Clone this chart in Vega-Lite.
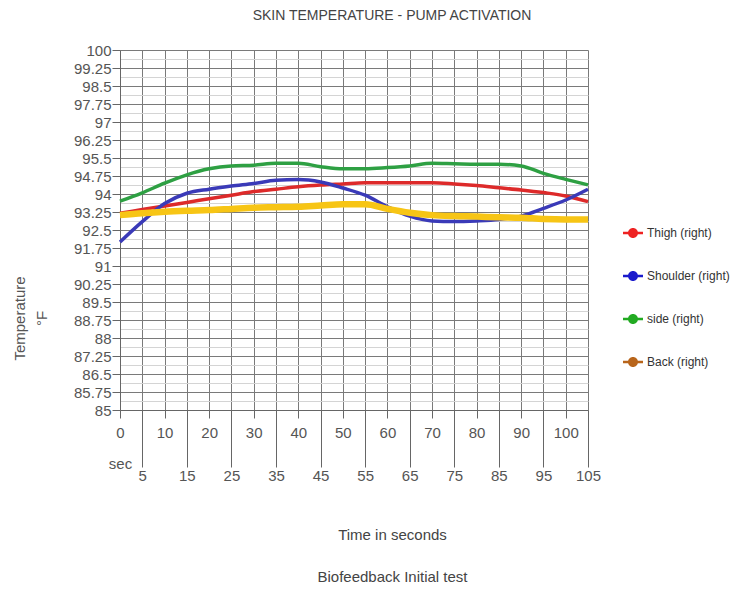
{
  "$schema": "https://vega.github.io/schema/vega-lite/v6.json",
  "width": 468,
  "height": 360,
  "autosize": "none",
  "padding": {"left": 120, "top": 50, "right": 159, "bottom": 180},
  "background": "white",
  "config": {
    "font": "Liberation Sans",
    "view": {"stroke": null}
  },
  "title": {
    "text": "SKIN TEMPERATURE - PUMP ACTIVATION",
    "font": "Liberation Sans",
    "fontSize": 14,
    "fontWeight": "normal",
    "color": "#444444",
    "anchor": "middle",
    "dx": 38,
    "offset": 20
  },
  "datasets": {
    "temps": [
      {"time": 0, "series": "Thigh (right)", "temp": 93.2},
      {"time": 5, "series": "Thigh (right)", "temp": 93.35},
      {"time": 10, "series": "Thigh (right)", "temp": 93.5},
      {"time": 15, "series": "Thigh (right)", "temp": 93.65},
      {"time": 20, "series": "Thigh (right)", "temp": 93.8},
      {"time": 25, "series": "Thigh (right)", "temp": 93.95},
      {"time": 30, "series": "Thigh (right)", "temp": 94.1},
      {"time": 35, "series": "Thigh (right)", "temp": 94.2},
      {"time": 40, "series": "Thigh (right)", "temp": 94.3},
      {"time": 45, "series": "Thigh (right)", "temp": 94.37},
      {"time": 50, "series": "Thigh (right)", "temp": 94.42},
      {"time": 55, "series": "Thigh (right)", "temp": 94.47},
      {"time": 60, "series": "Thigh (right)", "temp": 94.47},
      {"time": 65, "series": "Thigh (right)", "temp": 94.47},
      {"time": 70, "series": "Thigh (right)", "temp": 94.47},
      {"time": 75, "series": "Thigh (right)", "temp": 94.42},
      {"time": 80, "series": "Thigh (right)", "temp": 94.35},
      {"time": 85, "series": "Thigh (right)", "temp": 94.26},
      {"time": 90, "series": "Thigh (right)", "temp": 94.17},
      {"time": 95, "series": "Thigh (right)", "temp": 94.06},
      {"time": 100, "series": "Thigh (right)", "temp": 93.92},
      {"time": 105, "series": "Thigh (right)", "temp": 93.68},
      {"time": 0, "series": "Shoulder (right)", "temp": 92.0},
      {"time": 5, "series": "Shoulder (right)", "temp": 92.85},
      {"time": 10, "series": "Shoulder (right)", "temp": 93.6},
      {"time": 15, "series": "Shoulder (right)", "temp": 94.03},
      {"time": 20, "series": "Shoulder (right)", "temp": 94.2},
      {"time": 25, "series": "Shoulder (right)", "temp": 94.33},
      {"time": 30, "series": "Shoulder (right)", "temp": 94.44},
      {"time": 35, "series": "Shoulder (right)", "temp": 94.57},
      {"time": 40, "series": "Shoulder (right)", "temp": 94.6},
      {"time": 45, "series": "Shoulder (right)", "temp": 94.5},
      {"time": 50, "series": "Shoulder (right)", "temp": 94.25},
      {"time": 55, "series": "Shoulder (right)", "temp": 93.95},
      {"time": 60, "series": "Shoulder (right)", "temp": 93.47},
      {"time": 65, "series": "Shoulder (right)", "temp": 93.08},
      {"time": 70, "series": "Shoulder (right)", "temp": 92.88},
      {"time": 75, "series": "Shoulder (right)", "temp": 92.85},
      {"time": 80, "series": "Shoulder (right)", "temp": 92.88},
      {"time": 85, "series": "Shoulder (right)", "temp": 92.94},
      {"time": 90, "series": "Shoulder (right)", "temp": 93.08},
      {"time": 95, "series": "Shoulder (right)", "temp": 93.4},
      {"time": 100, "series": "Shoulder (right)", "temp": 93.75},
      {"time": 105, "series": "Shoulder (right)", "temp": 94.2},
      {"time": 0, "series": "side (right)", "temp": 93.7},
      {"time": 5, "series": "side (right)", "temp": 94.05},
      {"time": 10, "series": "side (right)", "temp": 94.45},
      {"time": 15, "series": "side (right)", "temp": 94.8},
      {"time": 20, "series": "side (right)", "temp": 95.05},
      {"time": 25, "series": "side (right)", "temp": 95.17},
      {"time": 30, "series": "side (right)", "temp": 95.2},
      {"time": 35, "series": "side (right)", "temp": 95.28},
      {"time": 40, "series": "side (right)", "temp": 95.28},
      {"time": 45, "series": "side (right)", "temp": 95.14},
      {"time": 50, "series": "side (right)", "temp": 95.05},
      {"time": 55, "series": "side (right)", "temp": 95.05},
      {"time": 60, "series": "side (right)", "temp": 95.1},
      {"time": 65, "series": "side (right)", "temp": 95.17},
      {"time": 70, "series": "side (right)", "temp": 95.28},
      {"time": 75, "series": "side (right)", "temp": 95.26},
      {"time": 80, "series": "side (right)", "temp": 95.24},
      {"time": 85, "series": "side (right)", "temp": 95.24},
      {"time": 90, "series": "side (right)", "temp": 95.17},
      {"time": 95, "series": "side (right)", "temp": 94.86},
      {"time": 100, "series": "side (right)", "temp": 94.61},
      {"time": 105, "series": "side (right)", "temp": 94.38},
      {"time": 0, "series": "Back (right)", "temp": 93.12},
      {"time": 5, "series": "Back (right)", "temp": 93.2},
      {"time": 10, "series": "Back (right)", "temp": 93.26},
      {"time": 15, "series": "Back (right)", "temp": 93.3},
      {"time": 20, "series": "Back (right)", "temp": 93.33},
      {"time": 25, "series": "Back (right)", "temp": 93.38},
      {"time": 30, "series": "Back (right)", "temp": 93.43},
      {"time": 35, "series": "Back (right)", "temp": 93.45},
      {"time": 40, "series": "Back (right)", "temp": 93.47},
      {"time": 45, "series": "Back (right)", "temp": 93.52},
      {"time": 50, "series": "Back (right)", "temp": 93.57},
      {"time": 55, "series": "Back (right)", "temp": 93.57},
      {"time": 60, "series": "Back (right)", "temp": 93.38},
      {"time": 65, "series": "Back (right)", "temp": 93.22},
      {"time": 70, "series": "Back (right)", "temp": 93.12},
      {"time": 75, "series": "Back (right)", "temp": 93.08},
      {"time": 80, "series": "Back (right)", "temp": 93.06},
      {"time": 85, "series": "Back (right)", "temp": 93.03},
      {"time": 90, "series": "Back (right)", "temp": 93.01},
      {"time": 95, "series": "Back (right)", "temp": 92.96},
      {"time": 100, "series": "Back (right)", "temp": 92.94},
      {"time": 105, "series": "Back (right)", "temp": 92.94}
    ]
  },
  "data": {"name": "temps"},
  "encoding": {
    "x": {
      "field": "time",
      "type": "quantitative",
      "scale": {"domain": [0, 105], "nice": false, "zero": false},
      "axis": {
        "values": [0, 5, 10, 15, 20, 25, 30, 35, 40, 45, 50, 55, 60, 65, 70, 75, 80, 85, 90, 95, 100, 105],
        "grid": true,
        "gridColor": "#7a7a7a",
        "gridWidth": 1,
        "gridOpacity": 1,
        "domainColor": "#666666",
        "tickColor": "#666666",
        "tickSize": {"condition": {"test": "datum.value % 10 == 5", "value": 57}, "value": 8},
        "labelExpr": "datum.value == 0 ? ['0', 'sec'] : '' + datum.value",
        "labelFontSize": 15,
        "labelColor": "#555555",
        "labelLineHeight": 31,
        "labelPadding": {"condition": {"test": "datum.value % 10 == 5", "value": 1}, "value": 7},
        "labelBaseline": "top",
        "labelFlush": false,
        "labelOverlap": false,
        "title": ["Time in seconds", "Biofeedback Initial test"],
        "titleFontSize": 15,
        "titleFontWeight": "normal",
        "titleColor": "#444444",
        "titleX": 272,
        "titleY": 117,
        "titleAlign": "center",
        "titleBaseline": "top",
        "titleLineHeight": 42
      }
    },
    "y": {
      "field": "temp",
      "type": "quantitative",
      "scale": {"domain": [85, 100], "nice": false, "zero": false},
      "axis": {
        "values": [85, 85.375, 85.75, 86.125, 86.5, 86.875, 87.25, 87.625, 88, 88.375, 88.75, 89.125, 89.5, 89.875, 90.25, 90.625, 91, 91.375, 91.75, 92.125, 92.5, 92.875, 93.25, 93.625, 94, 94.375, 94.75, 95.125, 95.5, 95.875, 96.25, 96.625, 97, 97.375, 97.75, 98.125, 98.5, 98.875, 99.25, 99.625, 100],
        "grid": true,
        "gridColor": {"condition": {"test": "abs((datum.value - 85) / 0.75 - round((datum.value - 85) / 0.75)) < 0.01", "value": "#7a7a7a"}, "value": "#d4d4d4"},
        "gridOpacity": 1,
        "domainColor": "#666666",
        "tickColor": "#666666",
        "tickOpacity": {"condition": {"test": "abs((datum.value - 85) / 0.75 - round((datum.value - 85) / 0.75)) < 0.01", "value": 1}, "value": 0},
        "tickSize": 8,
        "labelExpr": "abs((datum.value - 85) / 0.75 - round((datum.value - 85) / 0.75)) < 0.01 ? format(datum.value, '.2~f') : ''",
        "labelFontSize": 15,
        "labelColor": "#555555",
        "labelPadding": 1,
        "labelOverlap": false,
        "labelFlush": false,
        "title": ["Temperature", "°F"],
        "titleFontSize": 15,
        "titleFontWeight": "normal",
        "titleColor": "#555555",
        "titleAngle": -90,
        "titleX": -108,
        "titleY": 268,
        "titleAlign": "center",
        "titleBaseline": "top",
        "titleLineHeight": 22
      }
    }
  },
  "layer": [
    {
      "mark": {"type": "line", "interpolate": "monotone", "strokeCap": "butt"},
      "encoding": {
        "stroke": {
          "field": "series",
          "type": "nominal",
          "scale": {
            "range": ["#f7c515", "#3a3ab8", "#dd2a2a", "#2ea043"]
          },
          "legend": null
        },
        "strokeWidth": {
          "field": "series",
          "type": "nominal",
          "scale": {
            "type": "ordinal",
            "range": [6.5, 3.5, 3.5, 3.5]
          },
          "legend": null
        },
        "order": {"field": "time", "type": "quantitative"}
      }
    },
    {
      "mark": {"type": "point", "filled": true, "opacity": 0},
      "encoding": {
        "color": {
          "field": "series",
          "type": "nominal",
          "scale": {
            "domain": ["Thigh (right)", "Shoulder (right)", "side (right)", "Back (right)"],
            "range": ["#ee2222", "#1a1acc", "#22aa22", "#b8651b"]
          },
          "legend": {
            "title": null,
            "orient": "none",
            "legendX": 502,
            "legendY": 172,
            "rowPadding": 26,
            "symbolType": "M-1,-0.12L1,-0.12L1,0.12L-1,0.12Z M-0.5,0A0.5,0.5,0,1,1,0.5,0A0.5,0.5,0,1,1,-0.5,0Z",
            "symbolSize": 400,
            "symbolOpacity": 1,
            "labelFontSize": 12,
            "labelColor": "#333333",
            "labelOffset": 3,
            "labelLimit": 200
          }
        }
      }
    }
  ]
}
